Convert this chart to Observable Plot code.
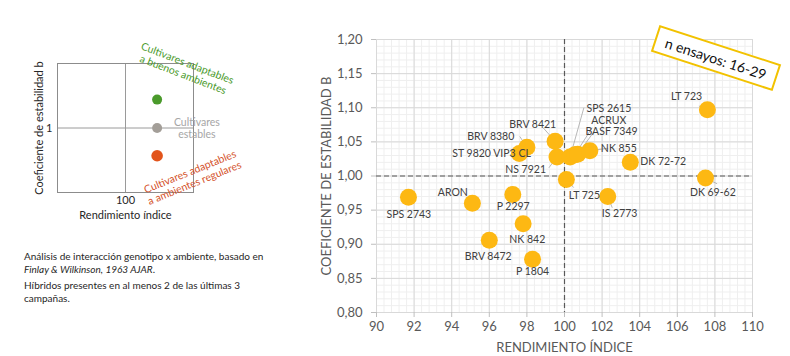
<!DOCTYPE html>
<html>
<head>
<meta charset="utf-8">
<script src="https://cdn.jsdelivr.net/npm/d3@7"></script>
<script src="https://cdn.jsdelivr.net/npm/@observablehq/plot@0.6"></script>
<style>
  body { margin: 0; background: #fff; }
  #wrap { position: relative; width: 790px; height: 356px; overflow: hidden; font-family: Lato, "Open Sans", sans-serif; }
  #left { position: absolute; left: 0; top: 0; }
  #main { position: absolute; left: 300px; top: 0; }
  #notes { position: absolute; left: 24px; top: 250px; font-size: 10px; line-height: 12.5px; color: #262626; width: 260px; }
  #notes p { margin: 0 0 4px 0; }
  #badge { position: absolute; left: 652px; top: 44px; width: 128px; height: 28px; box-sizing: border-box;
    border: 2px solid #F2C200; background: #fff; transform: rotate(18deg); display: flex; align-items: center;
    justify-content: center; font-size: 14px; color: #111; }
</style>
</head>
<body>
<div id="wrap">
  <div id="left"></div>
  <div id="main"></div>
  <div id="notes">
    <p>Análisis de interacción genotipo x ambiente, basado en<br><i>Finlay &amp; Wilkinson, 1963 AJAR</i>.</p>
    <p>Híbridos presentes en al menos 2 de las últimas 3<br>campañas.</p>
  </div>
  <div id="badge">n ensayos: 16-29</div>
</div>
<script>
// ---- Main chart data ----
const hybrids = ["SPS 2743","ARON","P 2297","NK 842","BRV 8472","P 1804","LT 725","IS 2773","BRV 8421","BRV 8380","ST 9820 VIP3 CL","NS 7921","SPS 2615","ACRUX","BASF 7349","NK 855","DK 72-72","LT 723","DK 69-62"];
const yieldIndex = [91.7, 95.1, 97.25, 97.8, 96.0, 98.3, 100.1, 102.3, 99.5, 98.0, 97.6, 99.6, 100.3, 100.55, 100.7, 101.35, 103.5, 107.6, 107.5];
const stabilityB = [0.969, 0.960, 0.973, 0.930, 0.906, 0.878, 0.995, 0.970, 1.051, 1.042, 1.033, 1.028, 1.028, 1.031, 1.032, 1.037, 1.020, 1.097, 0.997];
// label anchors (data units)
const labelX = [91.72, 94.06, 97.27, 98.02, 95.94, 98.30, 101.06, 102.93, 98.31, 96.08, 96.12, 97.93, 102.36, 102.36, 102.50, 102.89, 105.25, 106.49, 107.89];
const labelY = [0.944, 0.975, 0.955, 0.907, 0.882, 0.860, 0.971, 0.945, 1.075, 1.057, 1.033, 1.010, 1.0990, 1.0805, 1.0645, 1.0406, 1.0212, 1.117, 0.975];
// leader line ends (data units)
const leaderNames = ["BRV 8421","NS 7921","SPS 2615","ACRUX","BASF 7349","NK 855","LT 725","IS 2773","DK 69-62","LT 723","BRV 8380"];
const leaderX = [98.86, 99.17, 101.03, 101.47, 101.53, 102.30, 100.49, 102.54, 108.12, 107.15, 97.62];
const leaderY = [1.0708, 1.012, 1.100, 1.0708, 1.0635, 1.0406, 0.983, 0.9535, 0.9886, 1.1026, 1.058];
const xTicks = [90, 92, 94, 96, 98, 100, 102, 104, 106, 108, 110];
const yTicks = [0.80, 0.85, 0.90, 0.95, 1.00, 1.05, 1.10, 1.15, 1.20];
const xRef = [100];
const yRef = [1.00];

// ---- Schematic data ----
const schemaX = [109.3, 109.3, 109.3];
const schemaY = [1.44, 1.0, 0.57];
const schemaColors = ["#4a9a2b", "#a39e98", "#e2541b"];
const schemaR = [5, 5, 5.8];
const schemaXTicks = [100];
const schemaYTicks = [1];
const noteTexts = ["Cultivares adaptables\na buenos ambientes", "Cultivares\nestables", "Cultivares adaptables\na ambientes regulares"];
const noteX = [117.6, 121.0, 119.6];
const noteY = [1.92, 1.0, 0.24];
const noteRotate = [21, 0, -22];
const noteColors = ["#4a9a2b", "#a6a6a6", "#d4522a"];

const points = hybrids.map((n, i) => ({name: n, x: yieldIndex[i], y: stabilityB[i], lx: labelX[i], ly: labelY[i]}));
const leaders = leaderNames.map((n, i) => {
  const k = hybrids.indexOf(n);
  return {x1: yieldIndex[k], y1: stabilityB[k], x2: leaderX[i], y2: leaderY[i]};
});
const comma = d => d.toFixed(2).replace(".", ",");

const main = Plot.plot({
  width: 490, height: 356,
  marginLeft: 76, marginRight: 38, marginTop: 39, marginBottom: 44,
  style: {fontFamily: "Lato, 'Open Sans', sans-serif", fontSize: "13px", background: "transparent"},
  x: {domain: [90, 110]},
  y: {domain: [0.8, 1.2]},
  marks: [
    Plot.gridX(d3.range(90, 110.001, 0.4), {stroke: "#efefef", strokeOpacity: 1}),
    Plot.gridY(d3.range(0.8, 1.2001, 0.01), {stroke: "#efefef", strokeOpacity: 1}),
    Plot.gridX(xTicks, {stroke: "#d9d9d9", strokeOpacity: 1}),
    Plot.gridY(yTicks, {stroke: "#d9d9d9", strokeOpacity: 1}),
    Plot.ruleX(xRef, {stroke: "#595959", strokeDasharray: "5,3", strokeWidth: 1.2}),
    Plot.ruleY(yRef, {stroke: "#595959", strokeDasharray: "5,3", strokeWidth: 1.2}),
    Plot.axisX({ticks: xTicks, tickSize: 5, tickPadding: 4, stroke: "#bfbfbf", fill: "#595959",
      label: "RENDIMIENTO ÍNDICE", labelAnchor: "center", labelArrow: false, labelOffset: 39}),
    Plot.axisY({ticks: yTicks, tickSize: 5, tickPadding: 9, stroke: "#bfbfbf", fill: "#595959", tickFormat: comma,
      label: "COEFICIENTE DE ESTABILIDAD B", labelAnchor: "center", labelArrow: false, labelOffset: 55}),
    Plot.link(leaders, {x1: "x1", y1: "y1", x2: "x2", y2: "y2", stroke: "#a6a6a6", strokeWidth: 0.8}),
    Plot.dot(points, {x: "x", y: "y", r: 8.5, fill: "#FDB813", stroke: "none"}),
    Plot.text(points, {x: "lx", y: "ly", text: "name", fill: "#404040", fontSize: 10.5})
  ]
});
document.getElementById("main").appendChild(main);

const left = Plot.plot({
  width: 300, height: 230,
  marginLeft: 57, marginRight: 107, marginTop: 63, marginBottom: 38,
  style: {fontFamily: "Lato, 'Open Sans', sans-serif", fontSize: "11px", background: "transparent", overflow: "visible"},
  x: {domain: [80, 120]},
  y: {domain: [0, 2]},
  color: {type: "identity"},
  r: {type: "identity"},
  marks: [
    Plot.ruleX(schemaXTicks, {stroke: "#9a9a9a"}),
    Plot.ruleY(schemaYTicks, {stroke: "#9a9a9a"}),
    Plot.frame({stroke: "#8c8c8c"}),
    Plot.axisX({ticks: schemaXTicks, tickSize: 0, tickPadding: 4, fill: "#262626", tickFormat: d => String(d),
      label: "Rendimiento índice", labelAnchor: "center", labelArrow: false, labelOffset: 26}),
    Plot.axisY({ticks: schemaYTicks, tickSize: 0, tickPadding: 5, fill: "#262626", tickFormat: d => String(d),
      label: "Coeficiente de estabilidad b", labelAnchor: "center", labelArrow: false, labelOffset: 22}),
    Plot.dot(schemaX.map((x, i) => ({x, y: schemaY[i], c: schemaColors[i], r: schemaR[i]})), {x: "x", y: "y", fill: "c", r: "r"}),
    Plot.text(noteTexts.map((t, i) => ({t, x: noteX[i], y: noteY[i], rot: noteRotate[i], c: noteColors[i]})),
      {x: "x", y: "y", text: "t", rotate: "rot", fill: "c", fontSize: 10.5, lineHeight: 1.15})
  ]
});
document.getElementById("left").appendChild(left);
</script>
</body>
</html>
